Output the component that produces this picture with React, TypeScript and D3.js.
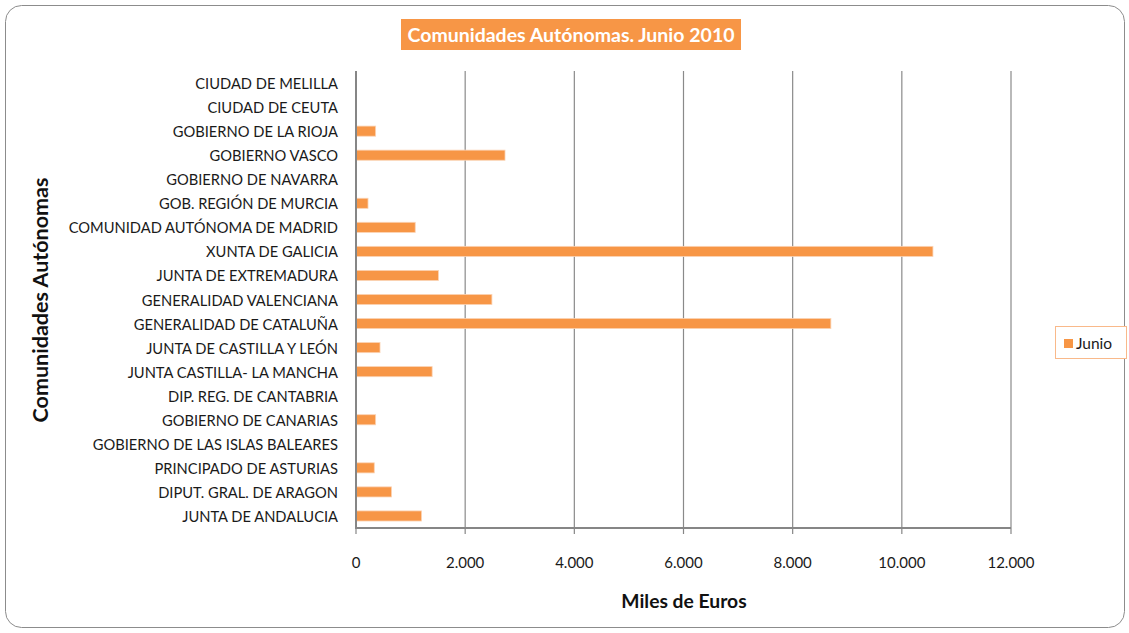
import React from "react";
import * as d3 from "d3";

const categories = [
  "JUNTA DE ANDALUCIA",
  "DIPUT. GRAL. DE ARAGON",
  "PRINCIPADO DE ASTURIAS",
  "GOBIERNO DE LAS ISLAS BALEARES",
  "GOBIERNO DE CANARIAS",
  "DIP. REG. DE CANTABRIA",
  "JUNTA CASTILLA- LA MANCHA",
  "JUNTA DE CASTILLA Y LEÓN",
  "GENERALIDAD DE CATALUÑA",
  "GENERALIDAD VALENCIANA",
  "JUNTA DE EXTREMADURA",
  "XUNTA DE GALICIA",
  "COMUNIDAD AUTÓNOMA DE MADRID",
  "GOB. REGIÓN DE MURCIA",
  "GOBIERNO DE NAVARRA",
  "GOBIERNO VASCO",
  "GOBIERNO DE LA RIOJA",
  "CIUDAD DE CEUTA",
  "CIUDAD DE MELILLA",
];

const junio = [1200, 650, 335, 0, 360, 0, 1395, 440, 8700, 2490, 1510, 10570, 1085, 220, 0, 2730, 360, 0, 0];

const xTicks = [0, 2000, 4000, 6000, 8000, 10000, 12000];
const seriesName = "Junio";
const title = "Comunidades Autónomas. Junio 2010";
const xTitle = "Miles de Euros";
const yTitle = "Comunidades Autónomas";

const W = 1129;
const H = 633;
const plot = { left: 356, right: 1011, top: 71, bottom: 528 };
const ORANGE = "#F79646";
const FONT = "Lato, 'Open Sans', sans-serif";

const fmt = (v: number) => d3.format(",")(v).replace(/,/g, ".");

export default function App() {
  const x = d3.scaleLinear().domain([0, 12000]).range([plot.left, plot.right]);
  const y = d3
    .scaleBand<string>()
    .domain([...categories].reverse())
    .range([plot.top, plot.bottom])
    .paddingInner(0.58)
    .paddingOuter(0.29);
  const band = d3.scaleBand<string>().domain([...categories].reverse()).range([plot.top, plot.bottom]);

  return (
    <div style={{ position: "absolute", left: 0, top: 0 }}>
      <svg width={W} height={H} style={{ display: "block", fontFamily: FONT }}>
        <rect x={0} y={0} width={W} height={H} fill="#fff" />
        <rect x={5.5} y={5.5} width={1119} height={622} rx={16} ry={16} fill="#fff" stroke="#8c8c8c" strokeWidth={1} />

        {/* title */}
        <rect x={401} y={19} width={340} height={31} fill={ORANGE} />
        <text x={571} y={41.5} textAnchor="middle" fill="#fff" fontWeight="bold" fontSize={19.5}>
          {title}
        </text>

        {/* gridlines */}
        {xTicks.slice(1).map((t) => (
          <line key={t} x1={x(t)} x2={x(t)} y1={plot.top} y2={plot.bottom} stroke="#8a8a8a" strokeWidth={1.2} />
        ))}

        {/* bars */}
        {categories.map((c, i) =>
          junio[i] > 0 ? (
            <rect
              key={c}
              x={x(0)}
              y={y(c)!}
              width={x(junio[i]) - x(0)}
              height={y.bandwidth()}
              fill={ORANGE}
              stroke="#fbd3b4"
              strokeWidth={0.8}
            />
          ) : null
        )}

        {/* category labels */}
        {categories.map((c) => (
          <text
            key={c}
            x={338}
            y={band(c)! + band.bandwidth() / 2 + 6}
            textAnchor="end"
            fontSize={14.7}
            fill="#1a1a1a"
          >
            {c}
          </text>
        ))}

        {/* axes */}
        <line x1={x(0)} x2={x(0)} y1={plot.top} y2={plot.bottom + 1} stroke="#868686" strokeWidth={2} />
        <line x1={x(0) - 1} x2={x(12000)} y1={plot.bottom} y2={plot.bottom} stroke="#868686" strokeWidth={2} />
        {xTicks.map((t) => (
          <line key={"tk" + t} x1={x(t)} x2={x(t)} y1={plot.bottom} y2={plot.bottom + 6} stroke="#868686" strokeWidth={1.2} />
        ))}
        {xTicks.map((t) => (
          <text key={"tl" + t} x={x(t)} y={568} textAnchor="middle" fontSize={15} fill="#1a1a1a">
            {fmt(t)}
          </text>
        ))}

        {/* axis titles */}
        <text x={684} y={608} textAnchor="middle" fontWeight="bold" fontSize={19.3} fill="#111">
          {xTitle}
        </text>
        <text
          transform={`translate(48,300) rotate(-90)`}
          textAnchor="middle"
          fontWeight="bold"
          fontSize={21.5}
          fill="#111"
        >
          {yTitle}
        </text>

        {/* legend */}
        <rect x={1055.5} y={326.5} width={71} height={32} fill="#fff" stroke="#f9b98a" strokeWidth={1} />
        <rect x={1064} y={339} width={9} height={9} fill={ORANGE} />
        <text x={1076} y={348.5} fontSize={15.5} fill="#1a1a1a">
          {seriesName}
        </text>
      </svg>
    </div>
  );
}
